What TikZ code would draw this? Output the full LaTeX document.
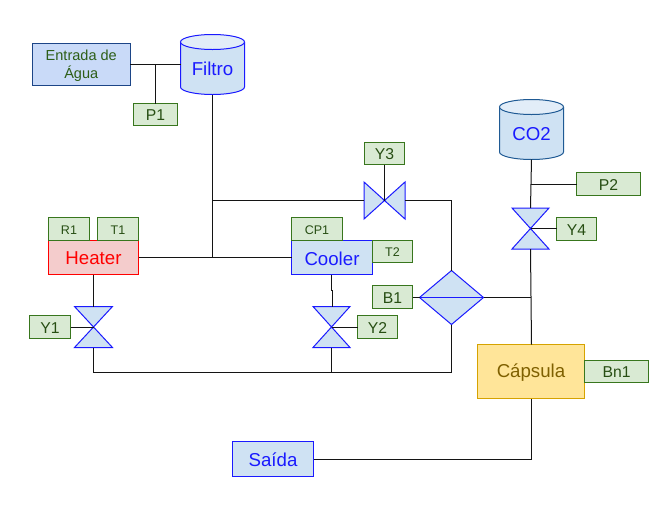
\documentclass[tikz,border=0pt]{standalone}
\usepackage{fontspec}
\setmainfont{Liberation Sans}
\definecolor{bluefill}{HTML}{CFE2F3}
\definecolor{bluetop}{HTML}{E2EDF8}
\definecolor{bluestroke}{HTML}{1A1AFF}
\definecolor{navy}{HTML}{1C4587}
\definecolor{steel}{HTML}{1F5A94}
\definecolor{entryfill}{HTML}{C9DAF8}
\definecolor{greenfill}{HTML}{D9EAD3}
\definecolor{greenstroke}{HTML}{38761D}
\definecolor{greentext}{HTML}{274E13}
\definecolor{redfill}{HTML}{F4CCCC}
\definecolor{goldfill}{HTML}{FFE599}
\definecolor{goldstroke}{HTML}{D6A300}
\definecolor{goldtext}{HTML}{7F6000}
\newcommand{\bfont}{\fontsize{14pt}{16pt}\selectfont}
\newcommand{\gfont}{\fontsize{11.8pt}{13.5pt}\selectfont}
\newcommand{\sfont}{\fontsize{9.4pt}{11pt}\selectfont}
\tikzset{
  base/.style={rectangle,inner sep=0pt,outer sep=0pt,align=center,line width=0.75pt},
  tag/.style={base,draw=greenstroke,fill=greenfill,text=greentext,font=\gfont},
  smalltag/.style={tag,font=\sfont},
  proc/.style={base,draw=bluestroke,fill=bluefill,text=bluestroke,font=\bfont},
  entry/.style={base,draw=navy,fill=entryfill,text=greenstroke!80!black,font=\fontsize{10.9pt}{13.5pt}\selectfont},
  heat/.style={base,draw=red,fill=redfill,text=red,font=\bfont},
  caps/.style={base,draw=goldstroke,fill=goldfill,text=goldtext,font=\bfont},
  anchorbox/.style={rectangle,inner sep=0pt,outer sep=0pt},
  shapeline/.style={draw=bluestroke,fill=bluefill,line width=0.75pt,line join=miter},
  pipe/.style={draw=black!92,line width=0.75pt}
}
% rectangle from corners; its text sits slightly below centre
\newcommand{\bx}[7]{%
  \pgfmathsetmacro{\cxx}{(#3+#5)/2}\pgfmathsetmacro{\cyy}{(#4+#6)/2}%
  \pgfmathsetmacro{\ww}{(#5-#3)*0.75}\pgfmathsetmacro{\hh}{(#6-#4)*0.75}%
  \node[#1,minimum width=\ww pt,minimum height=\hh pt] (#2) at (\cxx,\cyy) {\raisebox{-0.75pt}[\height][\depth]{#7}};}
% vertical-flow valve (triangles above and below)
\newcommand{\vvalve}[5]{%
  \bx{anchorbox}{#1}{#2}{#3}{#4}{#5}{}%
  \path[shapeline] (#1.north west) -- (#1.north east) -- (#1.south west) -- (#1.south east) -- cycle;}
% horizontal-flow valve (triangles left and right)
\newcommand{\hvalve}[5]{%
  \bx{anchorbox}{#1}{#2}{#3}{#4}{#5}{}%
  \path[shapeline] (#1.north west) -- (#1.south east) -- (#1.north east) -- (#1.south west) -- cycle;}
% cylinder
\newcommand{\cyl}[7]{%
  \bx{anchorbox}{#1}{#3}{#4}{#5}{#6}{}%
  \path[shapeline,draw=#2] (#1.north west) ++(0,7.5) -- ++(0,45)
    arc[start angle=180,end angle=0,x radius=32,y radius=7.5] -- ++(0,-45);
  \path[shapeline,draw=#2,fill=bluetop] (#1.north) ++(0,7.5) ellipse[x radius=32,y radius=7.5];
  \node[base,text=bluestroke,font=\bfont] (#1label) at ([yshift=-3.5pt]#1.center) {#7};}
\begin{document}
\begin{tikzpicture}[x=0.75pt,y=-0.75pt]
\useasboundingbox[fill=white] (0,0) rectangle (664,504);
\bx{entry}{entrada}{32.5}{43.5}{130}{85.5}{\begin{tabular}{@{}c@{}}Entrada de\\Água\end{tabular}}
\cyl{filtro}{bluestroke}{180.5}{34.5}{244.5}{94.5}{Filtro}
\bx{tag}{pone}{133.5}{103.5}{177.5}{125.5}{P1}
\bx{heat}{heater}{48.5}{240.5}{138.5}{274.5}{Heater}
\bx{smalltag}{rone}{48.5}{217.5}{89.5}{240.5}{R1}
\bx{smalltag}{tone}{97.5}{217.5}{138.5}{240.5}{T1}
\vvalve{vone}{74.5}{306.5}{112.5}{347.5}
\bx{tag}{yone}{29.5}{315.5}{70.5}{338.5}{Y1}
\bx{proc}{cooler}{291.5}{240.5}{372.5}{274.5}{Cooler}
\bx{smalltag}{cpone}{291.5}{217.5}{342.5}{240.5}{CP1}
\bx{smalltag}{ttwo}{372.5}{240.5}{412.5}{262.5}{T2}
\vvalve{vtwo}{313}{306.5}{350}{347.5}
\bx{tag}{ytwo}{357.5}{315.5}{397.5}{338.5}{Y2}
\hvalve{vthree}{364}{182}{405}{219}
\bx{tag}{ythree}{364.5}{142.5}{404.5}{164.5}{Y3}
\bx{anchorbox}{mix}{419.5}{270.5}{483.5}{324.5}{}
\path[shapeline] (mix.north) -- (mix.east) -- (mix.south) -- (mix.west) -- cycle;
\draw[draw=bluestroke,line width=0.75pt] (mix.west) -- (mix.east);
\bx{tag}{bone}{372.5}{285.5}{412.5}{308.5}{B1}
\cyl{cotwo}{steel}{499.5}{99.5}{563.5}{159.5}{CO2}
\bx{tag}{ptwo}{576.5}{172.5}{640.5}{195.5}{P2}
\vvalve{vfour}{512}{208}{549}{249}
\bx{tag}{yfour}{556.5}{217.5}{596.5}{240.5}{Y4}
\bx{caps}{capsula}{477.5}{344.5}{584.5}{398.5}{Cápsula}
\bx{tag}{bnone}{584.5}{360.5}{648.5}{382.5}{Bn1}
\bx{proc}{saida}{232.5}{441.5}{313.5}{476.5}{Saída}
% junction coordinates
\coordinate (jp) at (155.5,64.5);
\coordinate (jheat) at (212.5,257.5);
\coordinate (jthree) at (212.5,200.5);
\coordinate (jbot) at (331.5,372.5);
\coordinate (jco) at (530.5,184.5);
\coordinate (jcap) at (530.5,297.5);
\coordinate (jyone) at (93.5,327.5);
\coordinate (jytwo) at (331.5,327.5);
\coordinate (jyfour) at (530.5,228.5);
\coordinate (jcoolone) at (331.5,290.5);
\coordinate (jcooltwo) at (332.5,290.5);
\coordinate (jcapin) at (531.5,344.5);
\coordinate (jsaida) at (531.5,459.5);
% connectors
\path[pipe] (entrada.east) -- (filtro.west);
\path[pipe] (jp) -- (pone.north);
\path[pipe] (filtro.south) -- (jheat);
\path[pipe] (heater.east) -- (cooler.west);
\path[pipe] (jthree) -- (vthree.west);
\path[pipe] (vthree.east) -| (mix.north);
\path[pipe] (ythree.south) -- (vthree.center);
\path[pipe] (heater.south) -- (vone.north);
\path[pipe] (yone.east |- jyone) -- (jyone);
\path[pipe] (vone.south) |- (jbot) -| (mix.south);
\path[pipe] (jcoolone |- cooler.south) -- (jcoolone) -- (jcooltwo) -- (jcooltwo |- vtwo.north);
\path[pipe] (jytwo) -- (ytwo.west |- jytwo);
\path[pipe] (vtwo.south) -- (jbot);
\path[pipe] (bone.east |- mix.west) -- (mix.west);
\path[pipe] (mix.east) -- (jcap);
\path[pipe] (cotwo.south) -- (vfour.north);
\path[pipe] (jco) -- (ptwo.west |- jco);
\path[pipe] (jyfour) -- (yfour.west |- jyfour);
\path[pipe] (vfour.south) -- (jcapin);
\path[pipe] (jcapin |- capsula.south) -- (jsaida) -- (saida.east |- jsaida);
\end{tikzpicture}
\end{document}
